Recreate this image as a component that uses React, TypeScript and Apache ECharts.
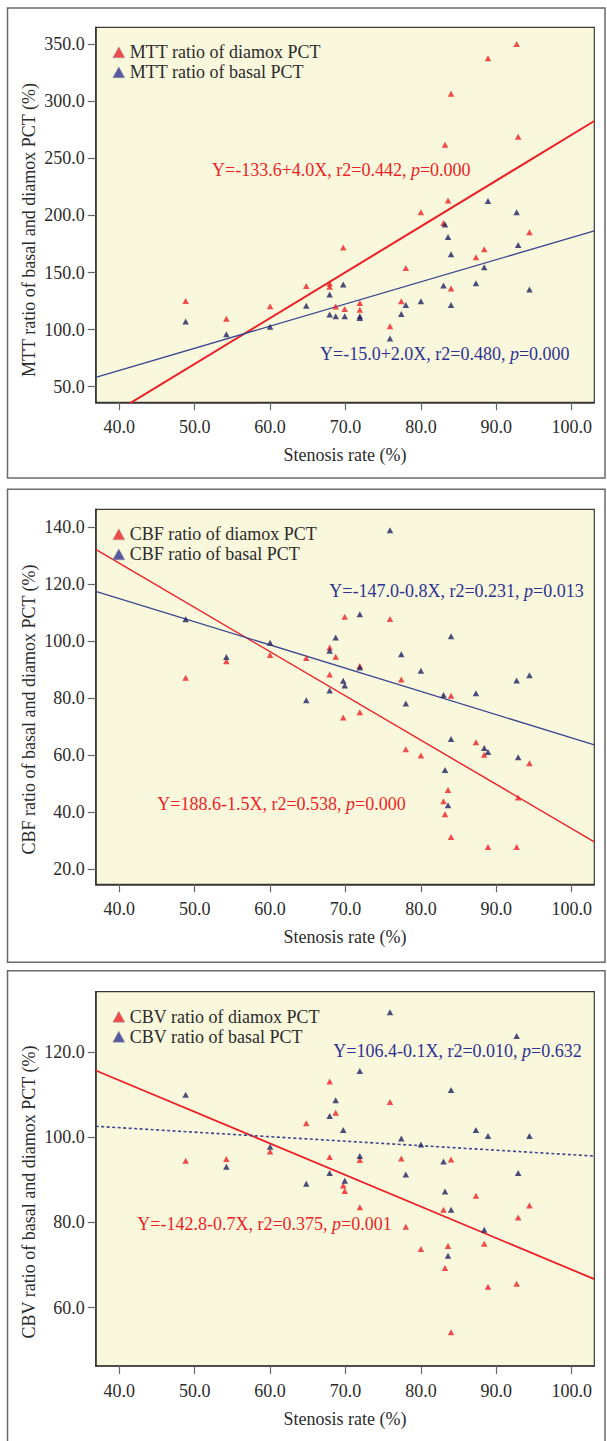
import React, { useEffect, useRef } from "react";
import * as echarts from "echarts";

// ---------------- data ----------------
const stenosisRate = [48.8, 54.2, 60.0, 64.8, 67.9, 67.9, 68.7, 69.7, 69.9, 71.9, 71.9, 75.9, 77.4, 78.0, 80.0, 83.0, 83.2, 83.6, 84.0, 84.0, 87.3, 88.4, 88.9, 92.7, 92.9, 94.4];

const mttDiamox = [125.1, 109.6, 120.4, 138.2, 140.3, 137.5, 120.2, 172.0, 118.0, 123.3, 117.5, 102.9, 124.8, 154.0, 202.9, 193.5, 261.9, 213.2, 306.7, 136.0, 163.4, 170.4, 337.7, 350.3, 269.0, 185.4];
const mttBasal = [107.0, 95.9, 102.6, 121.0, 130.7, 113.2, 111.7, 139.5, 111.7, 111.7, 110.2, 92.1, 113.7, 121.6, 124.8, 138.6, 192.1, 181.2, 166.0, 121.6, 140.6, 154.6, 212.6, 202.9, 174.2, 135.1];

const cbfDiamox = [87.1, 92.9, 95.1, 94.1, 97.8, 88.3, 94.5, 73.2, 108.6, 91.3, 75.0, 107.8, 86.5, 62.0, 59.8, 43.8, 39.2, 47.7, 80.8, 31.2, 64.5, 60.1, 27.7, 27.7, 45.1, 57.1];
const cbfBasal = [107.7, 94.4, 99.4, 79.2, 96.6, 82.7, 101.3, 86.1, 84.4, 109.4, 90.7, 138.9, 95.4, 78.1, 89.6, 81.1, 54.7, 42.4, 101.7, 65.6, 81.7, 62.5, 61.1, 86.2, 59.2, 88.0];

const cbvDiamox = [94.5, 94.9, 96.7, 103.3, 113.1, 95.4, 105.8, 88.7, 87.4, 94.7, 83.6, 108.3, 95.0, 79.0, 73.8, 83.0, 69.3, 74.5, 94.8, 54.2, 86.3, 75.0, 64.9, 65.6, 81.2, 84.0];
const cbvBasal = [110.0, 93.1, 97.8, 89.1, 105.0, 91.6, 108.7, 101.7, 89.8, 115.6, 95.6, 129.4, 99.7, 91.3, 98.3, 94.3, 87.3, 72.2, 111.1, 83.0, 101.7, 78.3, 100.3, 123.8, 91.6, 100.3];

// regression lines: y at the two x ends of the plot
const fitX = [36.87, 103.0];
const mttDiamoxFit = [17.2, 282.8];
const mttBasalFit = [58.2, 186.5];
const cbfDiamoxFit = [132.2, 29.5];
const cbfBasalFit = [117.5, 63.6];
const cbvDiamoxFit = [115.7, 66.7];
const cbvBasalFit = [102.6, 95.6];

// axes
const xTicks = [40, 50, 60, 70, 80, 90, 100];
const mttTicks = [50, 100, 150, 200, 250, 300, 350];
const cbfTicks = [20, 40, 60, 80, 100, 120, 140];
const cbvTicks = [60, 80, 100, 120];
const mttRange = [36.3, 364.9];
const cbfRange = [14.6, 146.3];
const cbvRange = [46.3, 134.2];

// texts
const mttNames = ["MTT ratio of diamox PCT", "MTT ratio of basal PCT"];
const cbfNames = ["CBF ratio of diamox PCT", "CBF ratio of basal PCT"];
const cbvNames = ["CBV ratio of diamox PCT", "CBV ratio of basal PCT"];
const yTitles = [
  "MTT ratio of basal and diamox PCT (%)",
  "CBF ratio of basal and diamox PCT (%)",
  "CBV ratio of basal and diamox PCT (%)",
];
const xTitle = "Stenosis rate (%)";
const mttEq = ["Y=-133.6+4.0X, r2=0.442, {i|p}=0.000", "Y=-15.0+2.0X, r2=0.480, {i|p}=0.000"];
const cbfEq = ["Y=188.6-1.5X, r2=0.538, {i|p}=0.000", "Y=-147.0-0.8X, r2=0.231, {i|p}=0.013"];
const cbvEq = ["Y=-142.8-0.7X, r2=0.375, {i|p}=0.001", "Y=106.4-0.1X, r2=0.010, {i|p}=0.632"];

// ---------------- styling ----------------
const FONT = "Liberation Serif";
const RED = "#ec1f27";
const NAVY = "#1e2260";
const BLUE_LINE = "#3a468f";
const BLUE_TEXT = "#2e3192";
const TEXT = "#2b2b2b";
const PLOT_BG = "#faf8dc";

const GRID_LEFT = 95.7;
const GRID_W = 498.6;

const panels = [
  {
    top: 27.3, height: 375, yRange: mttRange, yTicks: mttTicks, names: mttNames,
    diamox: mttDiamox, basal: mttBasal, dFit: mttDiamoxFit, bFit: mttBasalFit,
    eq: mttEq, redEqPos: [212, 170], blueEqPos: [320, 354], legendTop: 42.3,
    yTitleY: 230, xTitleY: 455, frame: [8, 478], redW: 2, blueDash: false,
  },
  {
    top: 509.3, height: 375, yRange: cbfRange, yTicks: cbfTicks, names: cbfNames,
    diamox: cbfDiamox, basal: cbfBasal, dFit: cbfDiamoxFit, bFit: cbfBasalFit,
    eq: cbfEq, redEqPos: [157.3, 804], blueEqPos: [329.3, 591], legendTop: 524.3,
    yTitleY: 709.5, xTitleY: 937.3, frame: [489.3, 962.3], redW: 1.4, blueDash: false,
  },
  {
    top: 991.7, height: 374.3, yRange: cbvRange, yTicks: cbvTicks, names: cbvNames,
    diamox: cbvDiamox, basal: cbvBasal, dFit: cbvDiamoxFit, bFit: cbvBasalFit,
    eq: cbvEq, redEqPos: [137.3, 1224], blueEqPos: [333.3, 1051], legendTop: 1006.7,
    yTitleY: 1192, xTitleY: 1419, frame: [970.7, 1446], redW: 1.8, blueDash: true,
  },
];

function buildOption() {
  const grid: any[] = [];
  const xAxis: any[] = [];
  const yAxis: any[] = [];
  const series: any[] = [];
  const legend: any[] = [];
  const graphic: any[] = [];

  panels.forEach((p, i) => {
    grid.push({
      left: GRID_LEFT, top: p.top, width: GRID_W, height: p.height,
      show: true, backgroundColor: PLOT_BG, borderColor: "#3a3a3a", borderWidth: 1.2,
      containLabel: false,
    });
    xAxis.push({
      type: "value", gridIndex: i, min: fitX[0], max: fitX[1],
      axisLine: { show: true, onZero: false, lineStyle: { color: "#333", width: 1.5 } },
      axisTick: { show: true, length: 8, customValues: xTicks, lineStyle: { color: "#666", width: 1.2 } },
      axisLabel: {
        customValues: xTicks, margin: 16, color: TEXT, fontFamily: FONT, fontSize: 18,
        formatter: (v: number) => v.toFixed(1),
      },
      splitLine: { show: false },
    });
    yAxis.push({
      type: "value", gridIndex: i, min: p.yRange[0], max: p.yRange[1],
      axisLine: { show: true, onZero: false, lineStyle: { color: "#333", width: 1.5 } },
      axisTick: { show: true, length: 8, customValues: p.yTicks, lineStyle: { color: "#666", width: 1.2 } },
      axisLabel: {
        customValues: p.yTicks, margin: 11, color: TEXT, fontFamily: FONT, fontSize: 18,
        formatter: (v: number) => v.toFixed(1),
      },
      splitLine: { show: false },
    });

    series.push({
      name: p.names[0] + "_fit", type: "line", xAxisIndex: i, yAxisIndex: i,
      data: [[fitX[0], p.dFit[0]], [fitX[1], p.dFit[1]]],
      symbol: "none", clip: true, silent: true, z: 2,
      lineStyle: { color: RED, width: p.redW },
    });
    series.push({
      name: p.names[1] + "_fit", type: "line", xAxisIndex: i, yAxisIndex: i,
      data: [[fitX[0], p.bFit[0]], [fitX[1], p.bFit[1]]],
      symbol: "none", clip: true, silent: true, z: 2,
      lineStyle: { color: BLUE_LINE, width: p.blueDash ? 1.6 : 1.3, type: p.blueDash ? [3, 2.5] : "solid" },
    });
    series.push({
      name: p.names[0], type: "scatter", xAxisIndex: i, yAxisIndex: i,
      data: stenosisRate.map((x, k) => [x, p.diamox[k]]),
      symbol: "triangle", symbolSize: [6.5, 6], itemStyle: { color: RED }, z: 3,
    });
    series.push({
      name: p.names[1], type: "scatter", xAxisIndex: i, yAxisIndex: i,
      data: stenosisRate.map((x, k) => [x, p.basal[k]]),
      symbol: "triangle", symbolSize: [6.5, 6], itemStyle: { color: NAVY }, z: 4,
    });

    legend.push({
      orient: "vertical", left: 112.5, top: p.legendTop, itemGap: 0, padding: 0,
      itemWidth: 12, itemHeight: 11, icon: "triangle",
      textStyle: { fontFamily: FONT, fontSize: 18, color: TEXT, lineHeight: 20 },
      data: [
        { name: p.names[0], itemStyle: { color: RED, borderColor: "#999", borderWidth: 0.6 } },
        { name: p.names[1], itemStyle: { color: BLUE_TEXT, borderColor: "#999", borderWidth: 0.6 } },
      ],
      selectedMode: false,
    });

    // panel frame
    graphic.push({
      type: "rect", shape: { x: 7.5, y: p.frame[0], width: 597.5, height: p.frame[1] - p.frame[0] },
      style: { fill: "rgba(0,0,0,0)", stroke: "#6a6a6a", lineWidth: 1.5 }, silent: true, z: -10,
    });
    // y title
    graphic.push({
      type: "text", x: 29, y: p.yTitleY, rotation: Math.PI / 2,
      style: { text: yTitles[i], fill: TEXT, font: `18px "${FONT}"`, align: "center", verticalAlign: "middle" },
      silent: true,
    });
    // x title
    graphic.push({
      type: "text", x: GRID_LEFT + GRID_W / 2, y: p.xTitleY,
      style: { text: xTitle, fill: TEXT, font: `18px "${FONT}"`, align: "center", verticalAlign: "middle" },
      silent: true,
    });
    // equations
    graphic.push({
      type: "text", x: p.redEqPos[0], y: p.redEqPos[1], z: 20,
      style: {
        text: p.eq[0], fill: RED, font: `18px "${FONT}"`, align: "left", verticalAlign: "middle",
        rich: { i: { fontStyle: "italic", fontFamily: FONT, fontSize: 18, fill: RED } },
      },
      silent: true,
    });
    graphic.push({
      type: "text", x: p.blueEqPos[0], y: p.blueEqPos[1], z: 20,
      style: {
        text: p.eq[1], fill: BLUE_TEXT, font: `18px "${FONT}"`, align: "left", verticalAlign: "middle",
        rich: { i: { fontStyle: "italic", fontFamily: FONT, fontSize: 18, fill: BLUE_TEXT } },
      },
      silent: true,
    });
  });

  return {
    animation: false,
    backgroundColor: "#ffffff",
    textStyle: { fontFamily: FONT },
    grid, xAxis, yAxis, series, legend, graphic,
  };
}

export default function App() {
  const ref = useRef<HTMLDivElement>(null);
  useEffect(() => {
    if (!ref.current) return;
    const chart = echarts.init(ref.current, null, { renderer: "svg" });
    chart.setOption(buildOption() as any);
    return () => chart.dispose();
  }, []);
  return (
    <div
      ref={ref}
      style={{ position: "absolute", left: 0, top: 0, width: 607, height: 1441 }}
    />
  );
}
